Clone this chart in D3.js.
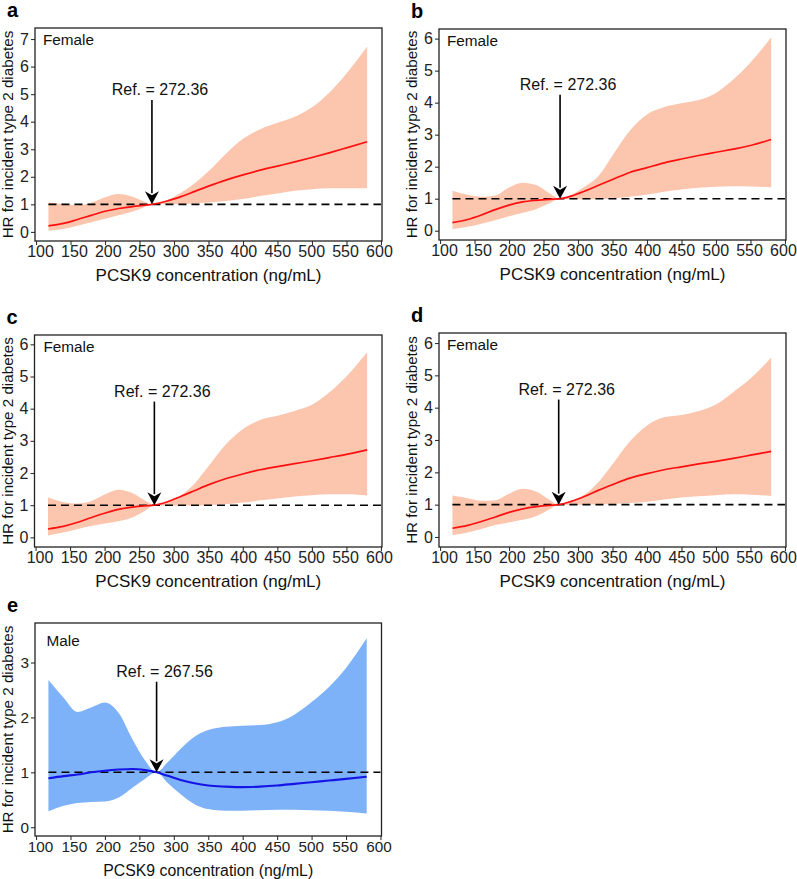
<!DOCTYPE html>
<html><head><meta charset="utf-8">
<script src="https://cdn.jsdelivr.net/npm/d3@7"></script>
<style>html,body{margin:0;padding:0;background:#fff;}</style>
</head><body>
<svg id="chart" width="797" height="879"></svg>
<script>
// ---------- data ----------
const panelLetters = ["a", "b", "c", "d", "e"];
const groups = ["Female", "Female", "Female", "Female", "Male"];
const refLabels = ["Ref. = 272.36", "Ref. = 272.36", "Ref. = 272.36", "Ref. = 272.36", "Ref. = 267.56"];
const xTicks = [100, 150, 200, 250, 300, 350, 400, 450, 500, 550, 600];
const yTicksA = [0, 1, 2, 3, 4, 5, 6, 7];
const yTicks6 = [0, 1, 2, 3, 4, 5, 6];
const yTicksE = [0, 1, 2, 3];
const xTitle = "PCSK9 concentration (ng/mL)";
const yTitle = "HR for incident type 2 diabetes";
const refLine = 1;
const arrowX = [268, 274, 272, 272, 275];
const arrowTop = [4.79, 4.25, 4.22, 4.25, 2.65];

const xA = [118,140,160,180,200,220,240,255,268,290,310,330,350,375,400,425,450,475,500,525,550,580];
const fitA = [0.22,0.31,0.45,0.60,0.75,0.85,0.92,0.96,1.00,1.12,1.28,1.47,1.66,1.88,2.07,2.24,2.39,2.54,2.70,2.87,3.05,3.27];
const loA  = [0.04,0.11,0.22,0.35,0.48,0.60,0.74,0.88,1.00,1.00,1.01,1.03,1.07,1.12,1.19,1.30,1.39,1.49,1.55,1.58,1.58,1.58];
const upA  = [1.07,1.01,0.97,1.06,1.26,1.38,1.28,1.12,1.00,1.15,1.42,1.77,2.20,2.83,3.38,3.73,3.96,4.18,4.52,5.05,5.75,6.73];

const xB = [118,140,160,180,200,220,240,258,274,290,310,330,350,375,400,425,450,475,500,525,550,580];
const fitB = [0.25,0.35,0.49,0.66,0.80,0.90,0.95,0.98,1.00,1.08,1.24,1.42,1.60,1.82,1.97,2.12,2.24,2.35,2.45,2.55,2.66,2.85];
const loB  = [0.05,0.12,0.22,0.33,0.45,0.56,0.68,0.85,1.00,0.98,0.98,0.99,1.01,1.06,1.13,1.22,1.29,1.34,1.37,1.39,1.38,1.36];
const upB  = [1.25,1.12,1.06,1.10,1.35,1.50,1.42,1.18,1.00,1.12,1.38,1.72,2.35,3.12,3.63,3.86,3.98,4.08,4.30,4.72,5.25,6.04];

const xC = [118,140,160,180,200,220,240,258,272,290,310,330,350,375,400,425,450,475,500,525,550,580];
const fitC = [0.26,0.34,0.46,0.61,0.75,0.87,0.94,0.98,1.00,1.10,1.27,1.45,1.63,1.82,1.97,2.10,2.20,2.29,2.38,2.48,2.58,2.72];
const loC  = [0.06,0.15,0.25,0.35,0.43,0.50,0.62,0.82,1.00,0.99,0.99,0.99,1.00,1.03,1.08,1.15,1.21,1.27,1.31,1.34,1.34,1.30];
const upC  = [1.24,1.10,1.05,1.12,1.33,1.48,1.38,1.15,1.00,1.10,1.30,1.67,2.20,2.88,3.36,3.65,3.78,3.93,4.12,4.50,5.00,5.75];

const xD = [118,140,160,180,200,220,240,258,272,290,310,330,350,375,400,425,450,475,500,525,550,580];
const fitD = [0.27,0.36,0.48,0.62,0.76,0.87,0.94,0.98,1.00,1.10,1.26,1.45,1.62,1.82,1.96,2.08,2.17,2.26,2.34,2.43,2.53,2.65];
const loD  = [0.06,0.14,0.25,0.37,0.45,0.53,0.65,0.85,1.00,1.00,1.00,1.01,1.02,1.05,1.09,1.16,1.22,1.26,1.29,1.32,1.31,1.27];
const upD  = [1.28,1.20,1.12,1.14,1.34,1.49,1.40,1.16,1.00,1.10,1.32,1.71,2.25,2.95,3.45,3.70,3.77,3.90,4.10,4.48,4.90,5.55];

const xE = [118,140,160,180,200,220,240,258,275,290,310,330,350,375,400,425,450,475,500,525,550,580];
const fitE = [0.89,0.93,0.96,1.00,1.03,1.05,1.06,1.04,1.00,0.94,0.86,0.80,0.76,0.74,0.73,0.74,0.76,0.79,0.82,0.85,0.88,0.92];
const loE  = [0.29,0.39,0.44,0.46,0.47,0.54,0.72,0.88,1.00,0.82,0.60,0.42,0.33,0.30,0.30,0.31,0.32,0.32,0.31,0.30,0.28,0.25];
const upE  = [2.68,2.36,2.10,2.18,2.27,2.08,1.60,1.22,1.00,1.17,1.43,1.65,1.77,1.83,1.85,1.86,1.91,2.05,2.28,2.55,2.90,3.44];

// ---------- layout ----------
const FONT = "'Liberation Sans', Arial, Helvetica, sans-serif";
const female = {ribbon: "#FCC6AE", line: "#FF1010", lw: 1.7};
const male = {ribbon: "#7DB2F8", line: "#1414E6", lw: 2.1};

const panels = [
  {l: 35, r: 382, t: 28, b: 241, yd: [-0.33, 7.40], ticks: yTicksA, x: xA, fit: fitA, lo: loA, up: upA, st: female, gdx: 8, gdy: 17, fs: 16, tfs: 17},
  {l: 439, r: 786, t: 29, b: 240, yd: [-0.29, 6.30], ticks: yTicks6, x: xB, fit: fitB, lo: loB, up: upB, st: female, gdx: 8, gdy: 17, fs: 16, tfs: 17},
  {l: 34.5, r: 382, t: 335, b: 547, yd: [-0.30, 6.29], ticks: yTicks6, x: xC, fit: fitC, lo: loC, up: upC, st: female, gdx: 9, gdy: 17, fs: 16, tfs: 17},
  {l: 439, r: 786, t: 333, b: 547, yd: [-0.31, 6.31], ticks: yTicks6, x: xD, fit: fitD, lo: loD, up: upD, st: female, gdx: 8, gdy: 17, fs: 16, tfs: 17},
  {l: 35, r: 381.5, t: 623, b: 836, yd: [-0.16, 3.72], ticks: yTicksE, x: xE, fit: fitE, lo: loE, up: upE, st: male, gdx: 11.5, gdy: 23, fs: 15.3, tfs: 15.8}
];

const svg = d3.select("#chart").style("font-family", FONT);

panels.forEach((p, i) => {
  const g = svg.append("g");
  const xs = d3.scaleLinear().domain([98.5, 601.5]).range([p.l, p.r]);
  const ys = d3.scaleLinear().domain(p.yd).range([p.b, p.t]);

  const rows = p.x.map((xv, k) => ({x: xv, f: p.fit[k], lo: p.lo[k], up: p.up[k]}));

  // ribbon
  const area = d3.area().x(d => xs(d.x)).y0(d => ys(d.lo)).y1(d => ys(d.up)).curve(d3.curveMonotoneX);
  g.append("path").attr("d", area(rows)).attr("fill", p.st.ribbon).attr("stroke", "none");

  // reference dashed line
  g.append("line")
    .attr("x1", xs(118)).attr("x2", xs(600))
    .attr("y1", ys(refLine)).attr("y2", ys(refLine))
    .attr("stroke", "#000").attr("stroke-width", 1.6).attr("stroke-dasharray", "8,5");

  // fitted line
  const line = d3.line().x(d => xs(d.x)).y(d => ys(d.f)).curve(d3.curveMonotoneX);
  g.append("path").attr("d", line(rows)).attr("fill", "none")
    .attr("stroke", p.st.line).attr("stroke-width", p.st.lw);

  // arrow
  const ax = xs(arrowX[i]);
  const tip = ys(refLine);
  const headH = 13, headW = 7;
  g.append("line").attr("x1", ax).attr("x2", ax)
    .attr("y1", ys(arrowTop[i])).attr("y2", tip - headH + 2)
    .attr("stroke", "#000").attr("stroke-width", 1.6);
  g.append("path")
    .attr("d", `M${ax - headW},${tip - headH} L${ax},${tip - headH + 4} L${ax + headW},${tip - headH} L${ax},${tip} Z`)
    .attr("fill", "#000");
  g.append("text").attr("x", ax + 8).attr("y", ys(arrowTop[i]) - 5)
    .attr("text-anchor", "middle").attr("font-size", 16).attr("fill", "#111")
    .text(refLabels[i]);

  // axes
  const xAxis = d3.axisBottom(xs).tickValues(xTicks).tickSize(4).tickPadding(1);
  const xg = g.append("g").attr("transform", `translate(0,${p.b})`).call(xAxis);
  const yAxis = d3.axisLeft(ys).tickValues(p.ticks).tickSize(4).tickPadding(2).tickFormat(d3.format("d"));
  const yg = g.append("g").attr("transform", `translate(${p.l},0)`).call(yAxis);
  [xg, yg].forEach(a => {
    a.select(".domain").remove();
    a.selectAll(".tick line").attr("stroke", "#333").attr("stroke-width", 1.1);
    a.selectAll(".tick text").attr("font-family", FONT).attr("font-size", p.fs).attr("fill", "#222");
  });
  // labels in the reference sit slightly inward from the ticks at the left end
  xg.selectAll(".tick text").attr("dx", d => ((600 - d) / 500) * 6 - 2);

  // frame
  g.append("rect").attr("x", p.l).attr("y", p.t).attr("width", p.r - p.l).attr("height", p.b - p.t)
    .attr("fill", "none").attr("stroke", "#222").attr("stroke-width", 1.3);

  // group label
  g.append("text").attr("x", p.l + p.gdx).attr("y", p.t + p.gdy)
    .attr("font-size", 15.3).attr("fill", "#111").text(groups[i]);

  // panel letter
  g.append("text").attr("x", p.l - 28).attr("y", p.t - 11)
    .attr("font-size", 20).attr("font-weight", "bold").attr("fill", "#000").text(panelLetters[i]);

  // axis titles
  g.append("text").attr("x", (p.l + p.r) / 2).attr("y", p.b + 40)
    .attr("text-anchor", "middle").attr("font-size", p.tfs).attr("fill", "#111").text(xTitle);
  g.append("text")
    .attr("transform", `translate(${p.l - 22},${(p.t + p.b) / 2}) rotate(-90)`)
    .attr("text-anchor", "middle").attr("font-size", 15.2).attr("fill", "#111").text(yTitle);
});
</script>
</body></html>
